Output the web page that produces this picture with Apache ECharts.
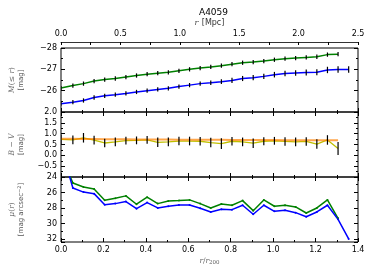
<!DOCTYPE html>
<html><head><meta charset="utf-8">
<script src="https://cdn.jsdelivr.net/npm/echarts@6/dist/echarts.min.js"></script>
<style>html,body{margin:0;padding:0;background:#fff}#c{width:374px;height:280px}</style>
</head><body><div id="c"></div>
<script>
// radial bins in units of r/r200
const rR200 = [0.0, 0.056, 0.106, 0.156, 0.206, 0.256, 0.306, 0.356, 0.406, 0.456, 0.506, 0.556, 0.606, 0.656, 0.706, 0.756, 0.806, 0.856, 0.906, 0.956, 1.006, 1.056, 1.106, 1.156, 1.206, 1.256, 1.306, 1.356];
// cumulative magnitude M(<=r)
const magGreen = [-26.12, -26.24, -26.33, -26.45, -26.52, -26.57, -26.64, -26.71, -26.77, -26.82, -26.86, -26.93, -27.00, -27.06, -27.11, -27.17, -27.24, -27.31, -27.34, -27.39, -27.45, -27.50, -27.53, -27.56, -27.59, -27.69, -27.71];
const magGreenErr = [0.1, 0.1, 0.1, 0.1, 0.1, 0.1, 0.1, 0.1, 0.1, 0.1, 0.1, 0.1, 0.1, 0.1, 0.1, 0.1, 0.1, 0.1, 0.1, 0.1, 0.1, 0.1, 0.1, 0.1, 0.1, 0.1, 0.1];
const magBlue = [-25.39, -25.46, -25.54, -25.68, -25.76, -25.81, -25.87, -25.94, -26.00, -26.06, -26.11, -26.19, -26.26, -26.33, -26.37, -26.42, -26.48, -26.57, -26.61, -26.67, -26.75, -26.80, -26.83, -26.85, -26.86, -26.97, -26.99, -26.99];
const magBlueErr = [0.1, 0.1, 0.1, 0.1, 0.1, 0.1, 0.1, 0.1, 0.1, 0.1, 0.1, 0.1, 0.1, 0.1, 0.11, 0.11, 0.12, 0.12, 0.12, 0.12, 0.13, 0.13, 0.13, 0.14, 0.14, 0.15, 0.15, 0.15];
// B - V colour
const bvData = [0.74, 0.71, 0.81, 0.70, 0.57, 0.62, 0.68, 0.69, 0.71, 0.60, 0.62, 0.66, 0.66, 0.65, 0.59, 0.54, 0.65, 0.62, 0.56, 0.65, 0.67, 0.64, 0.62, 0.64, 0.52, 0.71, 0.32];
const bvErr = [0.22, 0.2, 0.22, 0.2, 0.2, 0.2, 0.18, 0.18, 0.18, 0.22, 0.2, 0.2, 0.2, 0.2, 0.22, 0.25, 0.2, 0.2, 0.22, 0.18, 0.18, 0.2, 0.2, 0.2, 0.22, 0.22, 0.3];
const bvModel = [0.76, 0.76, 0.75, 0.75, 0.74, 0.74, 0.74, 0.73, 0.73, 0.73, 0.73, 0.72, 0.72, 0.72, 0.72, 0.72, 0.71, 0.71, 0.71, 0.71, 0.71, 0.70, 0.70, 0.70, 0.70, 0.70, 0.70];
// surface brightness mu(r)
const muGreen = [21.1, 24.78, 25.30, 25.56, 27.0, 26.74, 26.44, 27.52, 26.61, 27.44, 27.09, 27.05, 26.96, 27.44, 28.0, 27.48, 27.65, 27.05, 28.35, 26.96, 27.78, 27.65, 27.87, 28.65, 28.0, 26.96, 29.34];
const muBlue = [20.1, 25.43, 25.95, 26.15, 27.58, 27.44, 27.18, 28.09, 27.31, 28.0, 27.78, 27.61, 27.61, 28.04, 28.52, 28.17, 28.22, 27.65, 28.82, 27.65, 28.43, 28.30, 28.61, 29.13, 28.52, 27.65, 29.47, 32.0];
// tick settings
const mpcTicks = [0, 0.5, 1.0, 1.5, 2.0, 2.5];

const FONT = 'DejaVu Sans';
const MINUS = '\u2212';
const fmt = (v, d) => { const s = Math.abs(v).toFixed(d); return v < 0 ? MINUS + s : s; };

const pairs = (xs, ys) => ys.map((y, i) => [xs[i], y]);
const triples = (xs, ys, es) => ys.map((y, i) => [xs[i], y, es[i]]);

const tickIn = { show: true, inside: true, length: 4, lineStyle: { color: '#000', width: 1 } };
const minorIn = { show: true, splitNumber: 2, length: 2, lineStyle: { color: '#000', width: 1 } };
const lbl = { fontFamily: FONT, fontSize: 8, color: '#000', showMinLabel: true, showMaxLabel: true };
const noLine = { show: false, onZero: false };

function xR(grid, pos, showLabels) {
  return {
    type: 'value', gridIndex: grid, position: pos, min: 0, max: 1.4, interval: 0.2,
    axisLine: noLine, splitLine: { show: false },
    axisTick: tickIn, minorTick: minorIn,
    axisLabel: showLabels ? Object.assign({ margin: 4, formatter: v => v.toFixed(1) }, lbl) : { show: false }
  };
}
function yRight(grid, min, max, interval, inverse) {
  return {
    type: 'value', gridIndex: grid, position: 'right', min, max, interval, inverse,
    axisLine: noLine, splitLine: { show: false },
    axisTick: tickIn, minorTick: minorIn, axisLabel: { show: false }
  };
}
const nameRich = {
  it: { fontFamily: 'DejaVu Serif', fontStyle: 'italic', fontSize: 7.5, color: '#666' },
  rm: { fontFamily: 'DejaVu Serif', fontSize: 7.5, color: '#666' },
  n: { fontFamily: FONT, fontSize: 7, color: '#555' },
  sup: { fontFamily: FONT, fontSize: 5, color: '#555', verticalAlign: 'top', padding: [0, 0, 3, 0] },
  sub: { fontFamily: 'DejaVu Serif', fontSize: 5.5, color: '#666', padding: [4, 0, 0, 0] }
};

function errBars(xi, yi, data) {
  return {
    type: 'custom', xAxisIndex: xi, yAxisIndex: yi, z: 5, clip: true,
    renderItem: (params, api) => {
      const x = api.value(0), y = api.value(1), e = api.value(2);
      const a = api.coord([x, y - e]), b = api.coord([x, y + e]);
      return { type: 'line', shape: { x1: a[0], y1: a[1], x2: b[0], y2: b[1] }, style: { stroke: '#000', lineWidth: 1.2 } };
    },
    data
  };
}
function line(xi, yi, data, color, width, extra) {
  return Object.assign({
    type: 'line', xAxisIndex: xi, yAxisIndex: yi, data, showSymbol: false, symbol: 'none',
    lineStyle: { color, width }, itemStyle: { color }, clip: true, animation: false, z: 3
  }, extra || {});
}

const chart = echarts.init(document.getElementById('c'), null, { renderer: 'canvas' });
chart.setOption({
  animation: false,
  backgroundColor: '#fff',
  title: {
    text: 'A4059', left: 208.5, top: 3, textAlign: 'center',
    textStyle: { fontFamily: FONT, fontSize: 9, fontWeight: 'normal', color: '#000' }
  },
  grid: [
    { left: 59, right: 16, top: 48, height: 64, show: true, borderColor: '#000', borderWidth: 1, backgroundColor: 'transparent' },
    { left: 59, right: 16, top: 112, height: 65, show: true, borderColor: '#000', borderWidth: 1, backgroundColor: 'transparent' },
    { left: 59, right: 16, top: 177, height: 65, show: true, borderColor: '#000', borderWidth: 1, backgroundColor: 'transparent' }
  ],
  xAxis: [
    // 0: data axis panel 1 (r/r200), bottom
    xR(0, 'bottom', false),
    // 1: Mpc axis on top
    {
      type: 'value', gridIndex: 0, position: 'top', offset: 6, min: mpcTicks[0], max: mpcTicks[mpcTicks.length - 1], interval: 0.5,
      axisLine: { show: true, onZero: false, lineStyle: { color: '#333', width: 1 } }, splitLine: { show: false },
      axisTick: { show: true, inside: true, length: 3, lineStyle: { color: '#000' } },
      minorTick: { show: true, splitNumber: 2, length: 3, lineStyle: { color: '#000' } },
      axisLabel: Object.assign({ margin: 4, formatter: v => v.toFixed(1) }, lbl),
      name: '{it|r} {n2|[Mpc]}', nameLocation: 'middle', nameGap: 12,
      nameTextStyle: { rich: {
        it: { fontFamily: 'DejaVu Serif', fontStyle: 'italic', fontSize: 8, color: '#444' },
        n2: { fontFamily: FONT, fontSize: 8, color: '#333' } } }
    },
    // 2,3: panel 2
    xR(1, 'bottom', false), xR(1, 'top', false),
    // 4,5: panel 3
    Object.assign(xR(2, 'bottom', true), {
      name: '{it|r}{rm|/}{it|r}{sub|200}', nameLocation: 'middle', nameGap: 14,
      nameTextStyle: { rich: nameRich }
    }),
    xR(2, 'top', false)
  ],
  yAxis: [
    {
      type: 'value', gridIndex: 0, position: 'left', min: -28, max: -25, interval: 1, inverse: true,
      axisLine: noLine, splitLine: { show: false }, axisTick: tickIn, minorTick: minorIn,
      axisLabel: Object.assign({ margin: 4, formatter: v => (v === -25 ? '' : fmt(v, 0)) }, lbl),
      name: '{it|M}{rm|(≤ }{it|r}{rm|)}\n{n|[mag]}', nameLocation: 'middle', nameRotate: 90, nameGap: 35,
      nameTextStyle: { lineHeight: 9, rich: nameRich }
    },
    yRight(0, -28, -25, 1, true),
    {
      type: 'value', gridIndex: 1, position: 'left', min: -1, max: 2, interval: 0.5,
      axisLine: noLine, splitLine: { show: false }, axisTick: tickIn, minorTick: minorIn,
      axisLabel: Object.assign({ margin: 4, formatter: v => (v <= -1 ? '' : fmt(v, 1)) }, lbl),
      name: '{it|B}{rm| − }{it|V}\n{n|[mag]}', nameLocation: 'middle', nameRotate: 90, nameGap: 35,
      nameTextStyle: { lineHeight: 9, rich: nameRich }
    },
    yRight(1, -1, 2, 0.5, false),
    {
      type: 'value', gridIndex: 2, position: 'left', min: 24, max: 32.4, interval: 2, inverse: true,
      axisLine: noLine, splitLine: { show: false }, axisTick: tickIn, minorTick: minorIn,
      axisLabel: Object.assign({ margin: 4, formatter: v => (Math.abs(v % 2) < 1e-6 ? String(v) : '') }, lbl),
      name: '{it|μ}{rm|(}{it|r}{rm|)}\n{n|[mag arcsec}{sup|−2}{n|]}', nameLocation: 'middle', nameRotate: 90, nameGap: 35,
      nameTextStyle: { lineHeight: 9, rich: nameRich }
    },
    yRight(2, 24, 32.4, 2, true)
  ],
  series: [
    line(0, 0, pairs(rR200, magGreen), '#008000', 1.5),
    line(0, 0, pairs(rR200, magBlue), '#0000ff', 1.5),
    errBars(0, 0, triples(rR200, magGreen, magGreenErr)),
    errBars(0, 0, triples(rR200, magBlue, magBlueErr)),
    line(2, 2, pairs(rR200, bvData), '#bfbf00', 1.3),
    line(2, 2, pairs(rR200, bvModel), 'rgba(255,128,0,0.7)', 2, { z: 4 }),
    errBars(2, 2, triples(rR200, bvData, bvErr)),
    line(4, 4, pairs(rR200, muGreen), '#008000', 1.5, { showSymbol: true, symbol: 'circle', symbolSize: 2 }),
    line(4, 4, pairs(rR200, muBlue), '#0000ff', 1.5, { showSymbol: true, symbol: 'circle', symbolSize: 2 })
  ]
});
</script></body></html>
